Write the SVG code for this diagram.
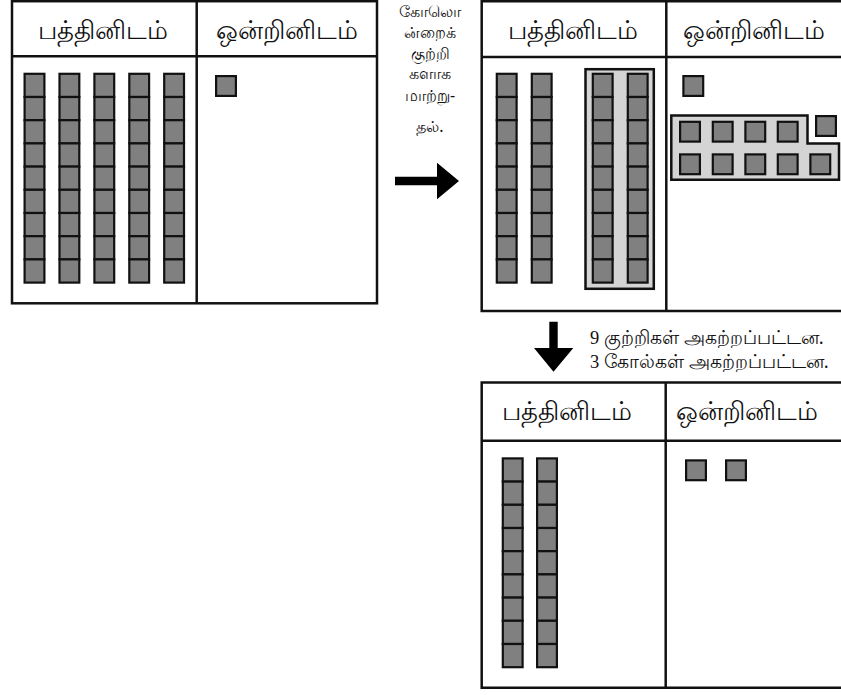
<svg xmlns="http://www.w3.org/2000/svg" xmlns:xlink="http://www.w3.org/1999/xlink" width="841" height="695" viewBox="0 0 841 695">
<style>
.frame{fill:none;stroke:#111;stroke-width:2.5}
.cell{fill:#808080;stroke:#111;stroke-width:2.2}
.grp{fill:#d4d4d4;stroke:#111;stroke-width:2.5}
.hdr{font-family:'Noto Sans','Liberation Sans',sans-serif;font-size:25.5px;fill:#111;text-anchor:middle}
.mid{font-family:'Noto Sans','Liberation Sans',sans-serif;font-size:16px;fill:#111;text-anchor:middle}
.lbl{font-family:'Noto Sans','Liberation Sans',sans-serif;font-size:18.5px;fill:#111}
.num{font-family:'Liberation Serif',serif}
.arrow{fill:#000}
</style>
<defs>
<g id="rod">
<rect class="cell" x="1.1" y="1.1" width="19.8" height="23.2"/>
<rect class="cell" x="1.1" y="24.3" width="19.8" height="23.2"/>
<rect class="cell" x="1.1" y="47.5" width="19.8" height="23.2"/>
<rect class="cell" x="1.1" y="70.7" width="19.8" height="23.2"/>
<rect class="cell" x="1.1" y="93.9" width="19.8" height="23.2"/>
<rect class="cell" x="1.1" y="117.1" width="19.8" height="23.2"/>
<rect class="cell" x="1.1" y="140.3" width="19.8" height="23.2"/>
<rect class="cell" x="1.1" y="163.5" width="19.8" height="23.2"/>
<rect class="cell" x="1.1" y="186.7" width="19.8" height="23.2"/>
</g>
<rect id="cube" class="cell" x="1.1" y="1.1" width="19.8" height="19.8"/>
</defs>

<g id="table1">
<rect class="frame" x="12" y="1.2" width="365" height="302.1"/>
<line class="frame" x1="12" y1="56.3" x2="377" y2="56.3"/>
<line class="frame" x1="196.7" y1="1.2" x2="196.7" y2="303.3"/>
<text class="hdr" x="102.5" y="39">பத்தினிடம்</text>
<text class="hdr" x="286.5" y="39">ஒன்றினிடம்</text>
<use xlink:href="#rod" x="23.5" y="72.7"/>
<use xlink:href="#rod" x="58.4" y="72.7"/>
<use xlink:href="#rod" x="93.3" y="72.7"/>
<use xlink:href="#rod" x="128.2" y="72.7"/>
<use xlink:href="#rod" x="163.1" y="72.7"/>
<use xlink:href="#cube" x="215" y="75"/>
</g>

<g id="note1">
<text class="mid"><tspan x="430" y="17">கோலொ</tspan><tspan x="430" y="38">ன்றைக்</tspan><tspan x="430" y="58.5">குற்றி</tspan><tspan x="430" y="79">களாக</tspan><tspan x="430" y="100.5">மாற்று-</tspan><tspan x="430" y="132">தல்.</tspan></text>
</g>

<g id="table2">
<polyline class="frame" points="845,1.2 481.7,1.2 481.7,311 845,311"/>
<line class="frame" x1="481.7" y1="57" x2="845" y2="57"/>
<line class="frame" x1="666.3" y1="1.2" x2="666.3" y2="311"/>
<text class="hdr" x="572.5" y="39">பத்தினிடம்</text>
<text class="hdr" x="753.5" y="39">ஒன்றினிடம்</text>
<use xlink:href="#rod" x="495.7" y="72.7"/>
<use xlink:href="#rod" x="530.7" y="72.7"/>
<rect class="grp" x="585.5" y="69.2" width="68.3" height="219.6"/>
<use xlink:href="#rod" x="591.7" y="72.7"/>
<use xlink:href="#rod" x="626.7" y="72.7"/>
<use xlink:href="#cube" x="682.3" y="75"/>
<polygon class="grp" points="671.3,115.5 807.5,115.5 807.5,143.5 839,143.5 839,179.8 671.3,179.8"/>
<use xlink:href="#cube" x="679" y="120.7"/>
<use xlink:href="#cube" x="711.7" y="120.7"/>
<use xlink:href="#cube" x="744.3" y="120.7"/>
<use xlink:href="#cube" x="776.7" y="120.7"/>
<use xlink:href="#cube" x="815" y="115"/>
<use xlink:href="#cube" x="679" y="153.3"/>
<use xlink:href="#cube" x="711.7" y="153.3"/>
<use xlink:href="#cube" x="744.3" y="153.3"/>
<use xlink:href="#cube" x="776.7" y="153.3"/>
<use xlink:href="#cube" x="809.3" y="153.3"/>
</g>

<g id="note2">
<text class="lbl" x="590" y="344"><tspan class="num">9</tspan> குற்றிகள் அகற்றப்பட்டன.</text>
<text class="lbl" x="590" y="368"><tspan class="num">3</tspan> கோல்கள் அகற்றப்பட்டன.</text>
</g>

<g id="table3">
<polyline class="frame" points="845,382.5 481.7,382.5 481.7,687.7 845,687.7"/>
<line class="frame" x1="481.7" y1="440.7" x2="845" y2="440.7"/>
<line class="frame" x1="665.7" y1="382.5" x2="665.7" y2="687.7"/>
<text class="hdr" x="566.5" y="420">பத்தினிடம்</text>
<text class="hdr" x="747" y="420">ஒன்றினிடம்</text>
<use xlink:href="#rod" x="501.7" y="457.3"/>
<use xlink:href="#rod" x="536" y="457.3"/>
<use xlink:href="#cube" x="685" y="459.3"/>
<use xlink:href="#cube" x="725" y="459.3"/>
</g>

<g id="connectors">
<polygon class="arrow" points="395,176.7 437,176.7 437,162.7 459,181 437,199.3 437,185.3 395,185.3"/>
<polygon class="arrow" points="549.3,321.7 557.7,321.7 557.7,348 573.3,348 553.5,371.7 534,348 549.3,348"/>
</g>
</svg>
